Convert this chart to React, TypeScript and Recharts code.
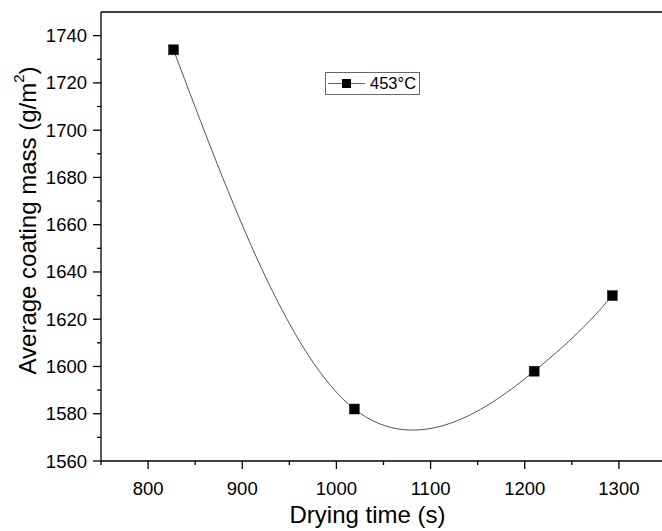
import { LineChart, Line, XAxis, YAxis, ReferenceLine, Legend, Label } from 'recharts';

// drying time (s) and measured average coating mass (g/m2) at 453°C
const dryingTime = [827, 1019, 1210, 1293];
const coatingMass = [1734, 1582, 1598, 1630];
const seriesName = '453°C';

const xTicks = [750, 800, 850, 900, 950, 1000, 1050, 1100, 1150, 1200, 1250, 1300, 1350];
const yTicks = [1560, 1570, 1580, 1590, 1600, 1610, 1620, 1630, 1640, 1650, 1660, 1670, 1680, 1690, 1700, 1710, 1720, 1730, 1740];

const data = dryingTime.map((t, i) => ({ t, mass: coatingMass[i] }));

const FONT = '"Liberation Sans", Arial, sans-serif';

const YTick = (props) => {
  const { x, y, payload } = props;
  const major = payload.value % 20 === 0;
  return (
    <g>
      <line x1={x} x2={x - (major ? 8 : 4)} y1={y} y2={y} stroke="#000" strokeWidth={1.3} />
      {major && (
        <text x={x - 14} y={y} textAnchor="end" dominantBaseline="central" fontSize={18.5} fontFamily={FONT} fill="#000">
          {payload.value}
        </text>
      )}
    </g>
  );
};

const XTick = (props) => {
  const { x, y, payload } = props;
  const major = payload.value % 100 === 0;
  return (
    <g>
      <line x1={x} x2={x} y1={y} y2={y + (major ? 8 : 4)} stroke="#000" strokeWidth={1.3} />
      {major && (
        <text x={x} y={y + 34} textAnchor="middle" fontSize={18.5} fontFamily={FONT} fill="#000">
          {payload.value}
        </text>
      )}
    </g>
  );
};

const YTitle = ({ viewBox }) => {
  const cx = viewBox.x + 27;
  const cy = viewBox.y + viewBox.height / 2 - 16;
  return (
    <text x={cx} y={cy} transform={`rotate(-90, ${cx}, ${cy})`} textAnchor="middle" dominantBaseline="central"
      fontSize={24} fontFamily={FONT} fill="#000">
      <tspan>Average coating mass (g/m</tspan>
      <tspan dy={-9} fontSize={15}>2</tspan>
      <tspan dy={9}>)</tspan>
    </text>
  );
};

const XTitle = ({ viewBox }) => (
  <text x={viewBox.x + viewBox.width / 2 - 16} y={viewBox.y + 62} textAnchor="middle" fontSize={24} fontFamily={FONT} fill="#000">
    Drying time (s)
  </text>
);

const Square = (props) => {
  const { cx, cy } = props;
  return <rect x={cx - 5} y={cy - 5} width={10} height={10} fill="#000" stroke="#222" strokeWidth={0.5} />;
};

const LegendBox = () => (
  <div style={{ border: '1px solid #666', width: 93, height: 21, display: 'flex', alignItems: 'center', background: '#fff', fontFamily: FONT }}>
    <svg width={40} height={21}>
      <line x1={2} x2={39} y1={10.5} y2={10.5} stroke="#666" strokeWidth={1} />
      <rect x={16} y={6} width={9} height={9} fill="#000" />
    </svg>
    <span style={{ fontSize: 16.5, marginLeft: 4, color: '#000' }}>{seriesName}</span>
  </div>
);

export default function App() {
  return (
    <div style={{ position: 'absolute', left: 0, top: 0, width: 662, height: 531, overflow: 'hidden', background: '#fff' }}>
      <LineChart width={670} height={531} data={data} margin={{ top: 12, right: 4, left: 0, bottom: 0 }}>
        <XAxis dataKey="t" type="number" domain={[750, 1350]} ticks={xTicks} interval={0} height={70}
          tick={<XTick />} tickLine={false} tickSize={0} tickMargin={0} allowDataOverflow
          axisLine={{ stroke: '#000', strokeWidth: 1.3 }}>
          <Label content={XTitle} />
        </XAxis>
        <YAxis type="number" domain={[1560, 1750]} ticks={yTicks} interval={0} width={101}
          tick={<YTick />} tickLine={false} tickSize={0} tickMargin={0} allowDataOverflow
          axisLine={{ stroke: '#000', strokeWidth: 1.3 }}>
          <Label content={YTitle} />
        </YAxis>
        <ReferenceLine y={1750} stroke="#000" strokeWidth={1.3} />
        <Legend layout="horizontal" verticalAlign="middle" align="center" content={<LegendBox />}
          wrapperStyle={{ left: 325, top: 72, width: 'auto' }} />
        <Line type="natural" dataKey="mass" name={seriesName} stroke="#555" strokeWidth={1}
          dot={<Square />} activeDot={false} isAnimationActive={false} />
      </LineChart>
    </div>
  );
}
